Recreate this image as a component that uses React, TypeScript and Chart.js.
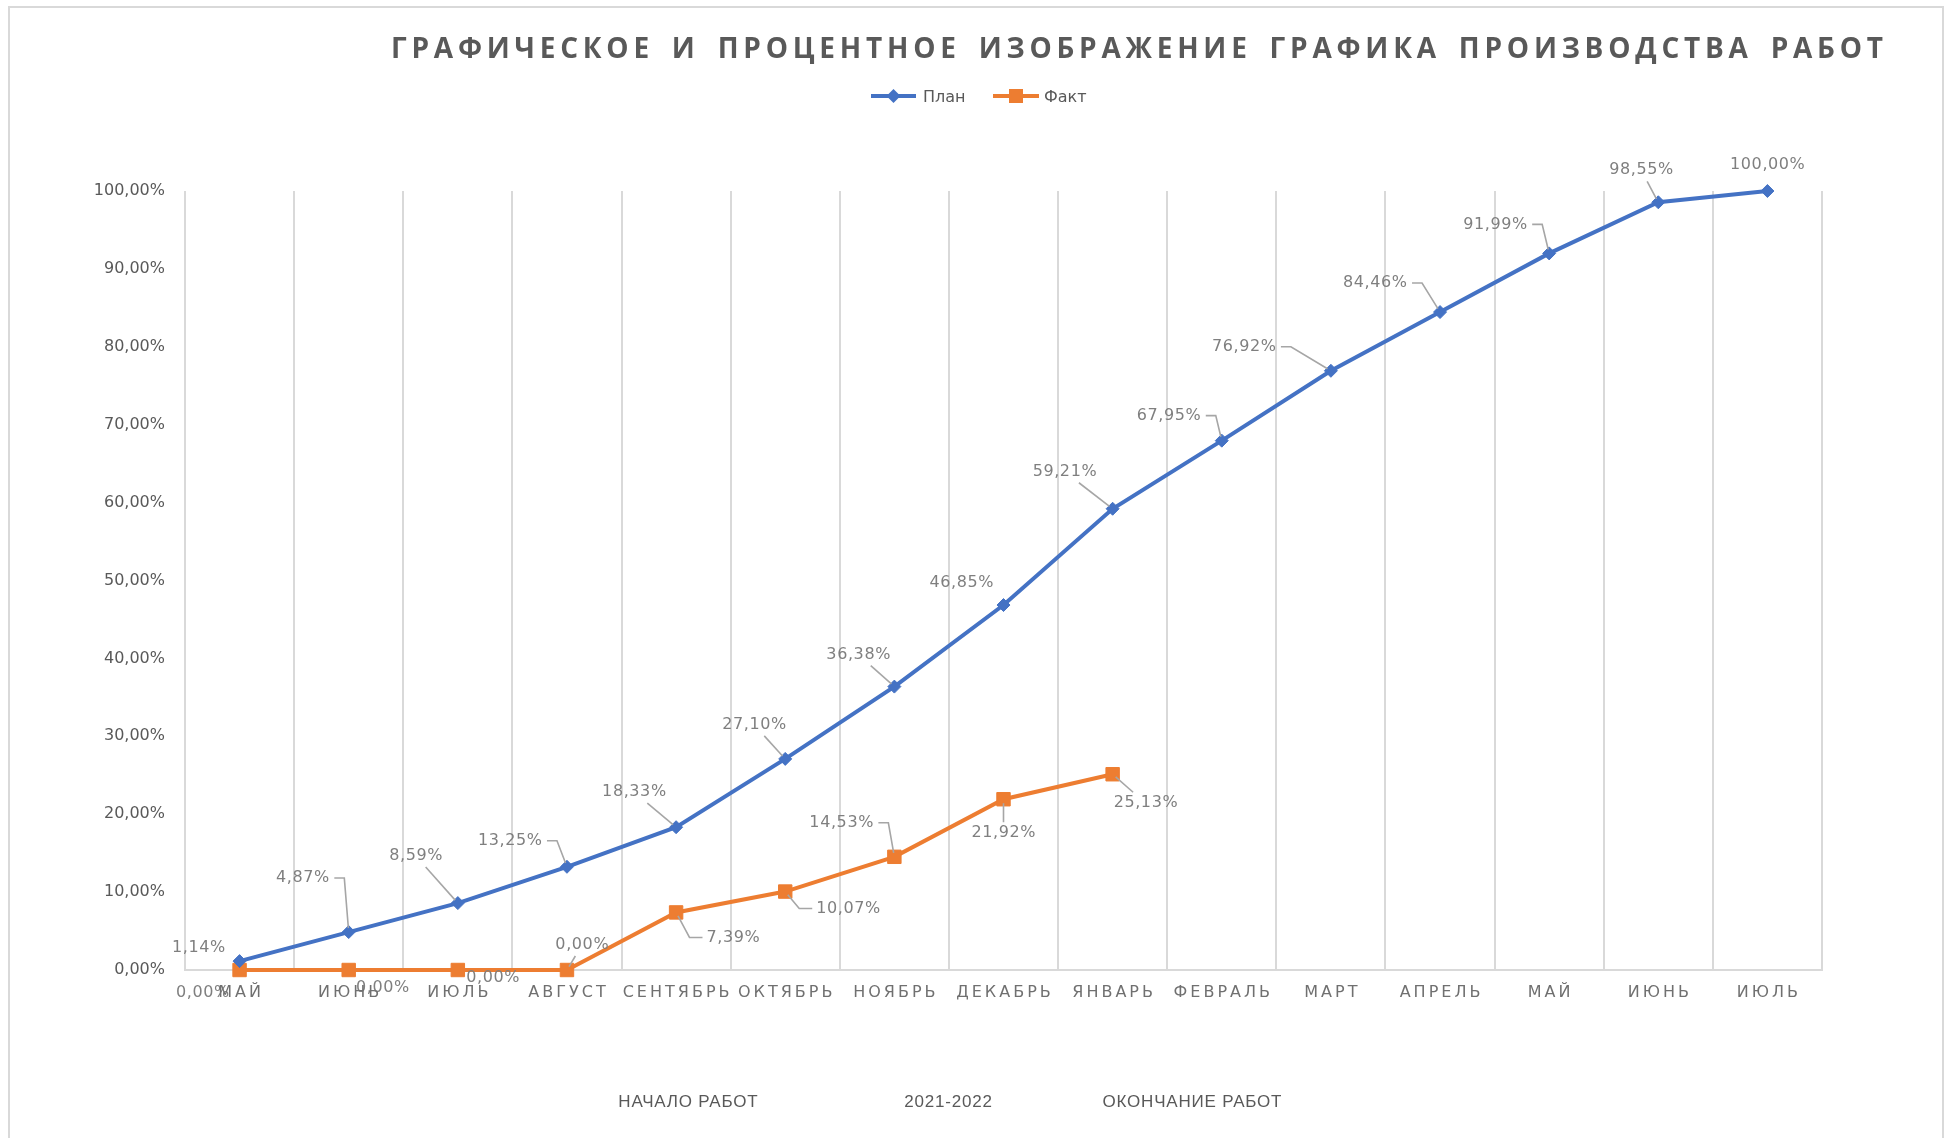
import React, { useEffect, useRef } from 'react';
import { Chart, registerables } from 'chart.js';

Chart.register(...registerables);

// ---------- data ----------
const chartTitle = 'ГРАФИЧЕСКОЕ И ПРОЦЕНТНОЕ ИЗОБРАЖЕНИЕ ГРАФИКА ПРОИЗВОДСТВА РАБОТ';
const months = ['МАЙ', 'ИЮНЬ', 'ИЮЛЬ', 'АВГУСТ', 'СЕНТЯБРЬ', 'ОКТЯБРЬ', 'НОЯБРЬ', 'ДЕКАБРЬ', 'ЯНВАРЬ', 'ФЕВРАЛЬ', 'МАРТ', 'АПРЕЛЬ', 'МАЙ', 'ИЮНЬ', 'ИЮЛЬ'];
const planLabel = 'План';
const planValues = [1.14, 4.87, 8.59, 13.25, 18.33, 27.1, 36.38, 46.85, 59.21, 67.95, 76.92, 84.46, 91.99, 98.55, 100.0];
const factLabel = 'Факт';
const factValues = [0, 0, 0, 0, 7.39, 10.07, 14.53, 21.92, 25.13];
const footerLabels = ['НАЧАЛО РАБОТ', '2021-2022', 'ОКОНЧАНИЕ РАБОТ'];

// ---------- styling / layout ----------
const W = 1948;
const H = 1138;
const PLAN_COLOR = '#4472C4';
const FACT_COLOR = '#ED7D31';
const GRID = '#d9d9d9';
const TEXT_DARK = '#595959';
const TEXT_AXIS = '#707070';
const TEXT_LABEL = '#7f7f7f';
const LEADER = '#a6a6a6';
const FONT = '"DejaVu Sans", sans-serif';

// label offsets (dx, dy from the point to the label centre) and leader kind
type Place = [number, number, string];
const planPlacement: Place[] = [
  [-41, -13, 'none'], [-46, -54, 'elbowL'], [-42, -47, 'diag'], [-57, -26, 'elbowL'], [-42, -35, 'diag'],
  [-31, -34, 'diag'], [-36, -32, 'diag'], [-42, -22, 'none'], [-48, -37, 'diag'], [-53, -25, 'elbowL'],
  [-87, -24, 'elbowL'], [-65, -29, 'elbowL'], [-54, -29, 'elbowL'], [-17, -32, 'diag'], [0, -26, 'none'],
];
const factPlacement: Place[] = [
  [-37, 23, 'none'], [34, 18, 'none'], [35, 8, 'none'], [15, -25, 'diag'], [57, 25, 'elbowR'],
  [63, 17, 'elbowR'], [-53, -34, 'elbowL'], [0, 34, 'diag'], [33, 29, 'diag'],
];

const footerX = [688, 948, 1192];

const fmt = (v: number) => v.toFixed(2).replace('.', ',') + '%';

function drawMarker(ctx: CanvasRenderingContext2D, style: string, x: number, y: number, color: string) {
  ctx.save();
  ctx.fillStyle = color;
  ctx.beginPath();
  if (style === 'rectRot') {
    const r = 7;
    ctx.moveTo(x - r, y);
    ctx.lineTo(x, y - r);
    ctx.lineTo(x + r, y);
    ctx.lineTo(x, y + r);
    ctx.closePath();
  } else {
    const s = 7;
    ctx.rect(x - s, y - s, 2 * s, 2 * s);
  }
  ctx.fill();
  ctx.restore();
}

const overlayPlugin = {
  id: 'overlay',
  afterDatasetsDraw(chart: any) {
    const ctx: CanvasRenderingContext2D = chart.ctx;
    chart.data.datasets.forEach((ds: any, di: number) => {
      const meta = chart.getDatasetMeta(di);
      const placement = di === 0 ? planPlacement : factPlacement;
      meta.data.forEach((el: any, i: number) => {
        const v = ds.data[i];
        if (v == null) return;
        const [dx, dy, kind] = placement[i];
        const px = el.x;
        const py = el.y;
        const cx = px + dx;
        const cy = py + dy;
        const text = fmt(v);
        ctx.save();
        ctx.font = `16px ${FONT}`;
        (ctx as any).letterSpacing = '0.6px';
        const w = ctx.measureText(text).width - 0.6;
        const h = 16;
        ctx.strokeStyle = LEADER;
        ctx.lineWidth = 1.6;
        if (kind === 'elbowL' || kind === 'elbowR') {
          const sx = kind === 'elbowL' ? cx + w / 2 + 5 : cx - w / 2 - 4;
          const mx = kind === 'elbowL' ? Math.min(sx + 10, px) : Math.max(sx - 13, px);
          let vx = mx - px;
          let vy = cy - py;
          const len = Math.hypot(vx, vy) || 1;
          vx /= len;
          vy /= len;
          ctx.beginPath();
          ctx.moveTo(sx, cy);
          ctx.lineTo(mx, cy);
          ctx.lineTo(px + vx * 4, py + vy * 4);
          ctx.stroke();
        } else if (kind === 'diag') {
          const ddx = px - cx;
          const ddy = py - cy;
          const tx = Math.abs(ddx) > 0.001 ? (w / 2 + 3) / Math.abs(ddx) : Infinity;
          const ty = Math.abs(ddy) > 0.001 ? (h / 2 + 3) / Math.abs(ddy) : Infinity;
          const t = Math.min(tx, ty);
          const sx = cx + ddx * t;
          const sy = cy + ddy * t;
          const len = Math.hypot(ddx, ddy) || 1;
          const ex = px - (ddx / len) * 4;
          const ey = py - (ddy / len) * 4;
          if ((ex - sx) * ddx + (ey - sy) * ddy > 0) {
            ctx.beginPath();
            ctx.moveTo(sx, sy);
            ctx.lineTo(ex, ey);
            ctx.stroke();
          }
        }
        ctx.fillStyle = TEXT_LABEL;
        ctx.textAlign = 'left';
        ctx.textBaseline = 'middle';
        ctx.fillText(text, cx - w / 2, cy);
        ctx.restore();
      });
    });
  },
  afterDraw(chart: any) {
    const ctx: CanvasRenderingContext2D = chart.ctx;
    const xs = chart.scales.x;

    // title
    ctx.save();
    ctx.font = `bold 28px "Open Sans", sans-serif`;
    ctx.fillStyle = TEXT_DARK;
    ctx.textAlign = 'left';
    ctx.textBaseline = 'alphabetic';
    (ctx as any).letterSpacing = '0px';
    (ctx as any).wordSpacing = '6px';
    const tw = ctx.measureText(chartTitle).width;
    const targetW = 1492;
    const sp = (targetW - tw) / (chartTitle.length - 1);
    (ctx as any).letterSpacing = `${sp}px`;
    ctx.fillText(chartTitle, 391, 58);
    ctx.restore();

    // legend
    const legend = [
      { text: planLabel, color: PLAN_COLOR, style: 'rectRot', x1: 871, x2: 916, tx: 923 },
      { text: factLabel, color: FACT_COLOR, style: 'rect', x1: 993, x2: 1039, tx: 1044 },
    ];
    legend.forEach((l) => {
      ctx.save();
      ctx.strokeStyle = l.color;
      ctx.lineWidth = 4;
      ctx.beginPath();
      ctx.moveTo(l.x1, 96);
      ctx.lineTo(l.x2, 96);
      ctx.stroke();
      drawMarker(ctx, l.style, (l.x1 + l.x2) / 2, 96, l.color);
      ctx.font = `16px ${FONT}`;
      ctx.fillStyle = TEXT_DARK;
      ctx.textAlign = 'left';
      ctx.textBaseline = 'alphabetic';
      ctx.fillText(l.text, l.tx, 102);
      ctx.restore();
    });

    // x-axis month labels (letter-spaced)
    ctx.save();
    ctx.font = `16px ${FONT}`;
    ctx.fillStyle = TEXT_AXIS;
    ctx.textAlign = 'left';
    ctx.textBaseline = 'alphabetic';
    (ctx as any).letterSpacing = '3px';
    months.forEach((m, i) => {
      const cx = xs.getPixelForValue(i);
      const w = ctx.measureText(m).width - 3;
      ctx.fillText(m, cx - w / 2, 997);
    });
    ctx.restore();

    // footer texts
    ctx.save();
    ctx.font = `17px "Liberation Sans", sans-serif`;
    ctx.fillStyle = TEXT_DARK;
    ctx.textAlign = 'left';
    ctx.textBaseline = 'alphabetic';
    (ctx as any).letterSpacing = '0.8px';
    footerLabels.forEach((t, i) => {
      const w = ctx.measureText(t).width - 0.8;
      ctx.fillText(t, footerX[i] - w / 2, 1107);
    });
    ctx.restore();
  },
};

export default function App() {
  const canvasRef = useRef<HTMLCanvasElement | null>(null);

  useEffect(() => {
    if (!canvasRef.current) return;
    const chart = new Chart(canvasRef.current, {
      type: 'line',
      data: {
        labels: months,
        datasets: [
          {
            label: planLabel,
            data: planValues,
            borderColor: PLAN_COLOR,
            backgroundColor: PLAN_COLOR,
            borderWidth: 4,
            pointStyle: 'rectRot',
            pointRadius: 6.5,
            pointBorderWidth: 1,
            pointBorderColor: PLAN_COLOR,
            pointBackgroundColor: PLAN_COLOR,
            tension: 0,
            clip: false,
          },
          {
            label: factLabel,
            data: factValues,
            borderColor: FACT_COLOR,
            backgroundColor: FACT_COLOR,
            borderWidth: 4,
            pointStyle: 'rect',
            pointRadius: 9.5,
            pointBorderWidth: 1,
            pointBorderColor: FACT_COLOR,
            pointBackgroundColor: FACT_COLOR,
            tension: 0,
            clip: false,
          },
        ],
      },
      options: {
        responsive: false,
        animation: false,
        devicePixelRatio: 1,
        layout: { padding: { left: 0, top: 191, right: W - 1822, bottom: H - 970 - 40 } },
        plugins: {
          legend: { display: false },
          title: { display: false },
          tooltip: { enabled: false },
        },
        scales: {
          x: {
            type: 'category',
            offset: true,
            grid: { display: true, offset: true, color: GRID, lineWidth: 2, drawTicks: false },
            border: { display: true, color: GRID, width: 2 },
            ticks: { display: false },
            afterFit: (s: any) => {
              s.height = 40;
            },
          },
          y: {
            min: 0,
            max: 100,
            ticks: {
              stepSize: 10,
              callback: (v: any) => fmt(Number(v)),
              color: TEXT_DARK,
              font: { family: 'DejaVu Sans', size: 16 },
              padding: 20,
            },
            grid: { display: false, drawTicks: false },
            border: { display: false },
            afterFit: (s: any) => {
              s.width = 185;
            },
          },
        },
      },
      plugins: [overlayPlugin],
    } as any);
    return () => chart.destroy();
  }, []);

  return (
    <div style={{ position: 'fixed', left: 0, top: 0, width: W, height: H, overflow: 'hidden', background: '#fff' }}>
      <div
        style={{
          position: 'absolute',
          left: 8,
          top: 6,
          width: 1936,
          height: 1300,
          border: `2px solid ${GRID}`,
          boxSizing: 'border-box',
        }}
      />
      <canvas
        ref={canvasRef}
        width={W}
        height={H}
        style={{ position: 'absolute', left: 0, top: 0, width: W, height: H }}
      />
    </div>
  );
}
